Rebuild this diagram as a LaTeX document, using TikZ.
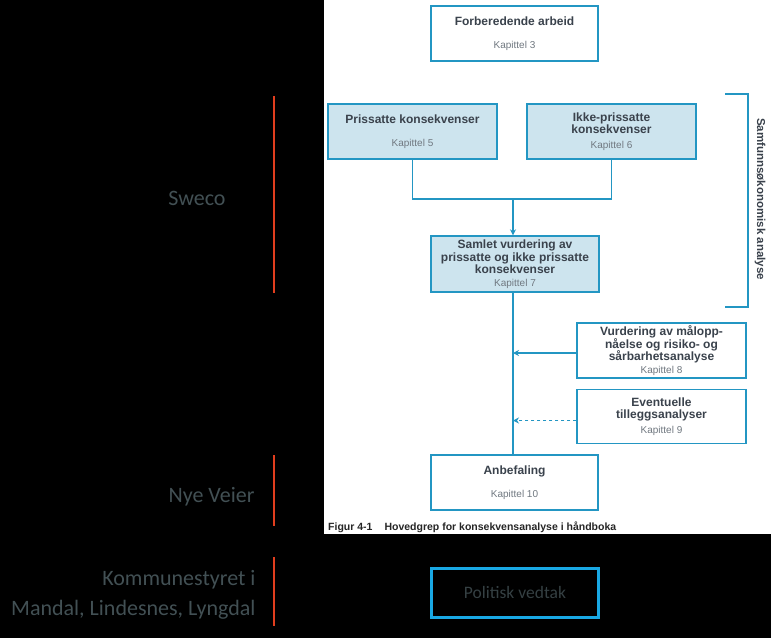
\documentclass[tikz,border=0pt]{standalone}
\usepackage{fontspec}
\setmainfont{Liberation Sans}
\newfontfamily\lightfont{Carlito}
\usetikzlibrary{arrows.meta, positioning}
\definecolor{boxblue}{RGB}{35,150,195}
\definecolor{fillblue}{RGB}{205,228,238}
\definecolor{textgray}{RGB}{58,66,76}
\definecolor{kapgray}{RGB}{112,120,128}
\definecolor{sidegray}{RGB}{66,80,84}
\definecolor{redline}{RGB}{225,62,30}
\definecolor{brightcyan}{RGB}{25,168,228}
\newcommand{\kap}[1]{{\mdseries\color{kapgray}\fontsize{10}{11}\selectfont Kapittel #1}}

\begin{document}
\begin{tikzpicture}[
    x=1pt, y=-1pt,
    step box/.style={rectangle, draw=boxblue, fill=white, line width=1.4pt,
                 minimum width=167pt, minimum height=55pt, inner sep=0pt,
                 font=\fontsize{12}{12.5}\selectfont\bfseries, text=textgray, align=center},
    blue box/.style={step box, fill=fillblue},
    line/.style={draw=boxblue, line width=1.4pt},
    arr/.style={line, -{Stealth[length=6pt, width=6pt]}},
    redbar/.style={draw=redline, line width=2.5pt},
    side/.style={font=\lightfont\fontsize{22}{30}\selectfont, text=sidegray, align=right}
]
\useasboundingbox (0,0) rectangle (771,638);
\fill[black] (0,0) rectangle (771,638);
\fill[white] (324,0) rectangle (771,534);

% Forberedende arbeid
\node[step box] (prep) at (514.5,33.5) {Forberedende arbeid\\[10pt]\kap{3}};

% Prissatte / ikke-prissatte
\node[blue box, minimum width=169pt] (pris) at (412.5,131.5) {Prissatte konsekvenser\\[10pt]\kap{5}};
\node[blue box, minimum width=169pt] (ikke) at (611.5,131.5) {Ikke-prissatte\\konsekvenser\\[2pt]\kap{6}};

% Samlet vurdering
\node[blue box, minimum width=168pt, minimum height=56pt] (samlet) at (515,264)
    {Samlet vurdering av\\prissatte og ikke prissatte\\konsekvenser\\\kap{7}};

% Side boxes
\node[step box, minimum width=169pt] (maal) at (661.5,350.5)
    {Vurdering av m\aa lopp-\\n\aa else og risiko- og\\s\aa rbarhetsanalyse\\\kap{8}};
\node[step box, minimum width=169pt, minimum height=54pt] (tillegg) at (661.5,416.5)
    {Eventuelle\\tilleggsanalyser\\[2pt]\kap{9}};

% Anbefaling
\node[step box] (anbef) at (514.5,482.5) {Anbefaling\\[10pt]\kap{10}};

% Caption
\node[anchor=west, inner sep=0pt, font=\fontsize{10.5}{12}\selectfont\bfseries, text=black!85] (caption) at (328,527)
    {Figur 4-1\hspace{12pt}Hovedgrep for konsekvensanalyse i h\aa ndboka};

% Politisk vedtak
\node[rectangle, draw=brightcyan, line width=3pt, minimum width=167pt, minimum height=49pt,
      font=\lightfont\fontsize{17.5}{20}\selectfont, text=sidegray!80!black] (vedtak) at (515,592.5) {Politisk vedtak};

% Arrows
\coordinate (join) at (513,199);
\draw[line] (pris.south) |- (join);
\draw[line] (ikke.south) |- (join);
\draw[arr] (join) -- (join |- samlet.north);
\draw[line] (join |- samlet.south) -- (join |- anbef.north);
\draw[arr] ([yshift=-2.5pt]maal.west) -- ([yshift=-2.5pt]maal.west -| join);
\draw[arr, dashed] ([yshift=-4pt]tillegg.west) -- ([yshift=-4pt]tillegg.west -| join);

% Samfunnsokonomisk bracket
\draw[line] (725,94) -- (748,94) -- (748,307) -- (725,307);
\node[rotate=-90, font=\fontsize{11.5}{12}\selectfont\bfseries, text=textgray] (samf) at (760,199)
    {Samfunns\o konomisk analyse};

% Left side
\draw[redbar] (274,96) -- (274,293);
\node[side] (sweco) at (197,198) {Sweco};
\draw[redbar] (274,455) -- (274,526);
\node[side, anchor=east] (nye) at (258,497) {Nye Veier};
\draw[redbar] (274,557) -- (274,626);
\node[side, anchor=east] (kommune) at (259,595) {Kommunestyret i\\Mandal, Lindesnes, Lyngdal};

\end{tikzpicture}
\end{document}
